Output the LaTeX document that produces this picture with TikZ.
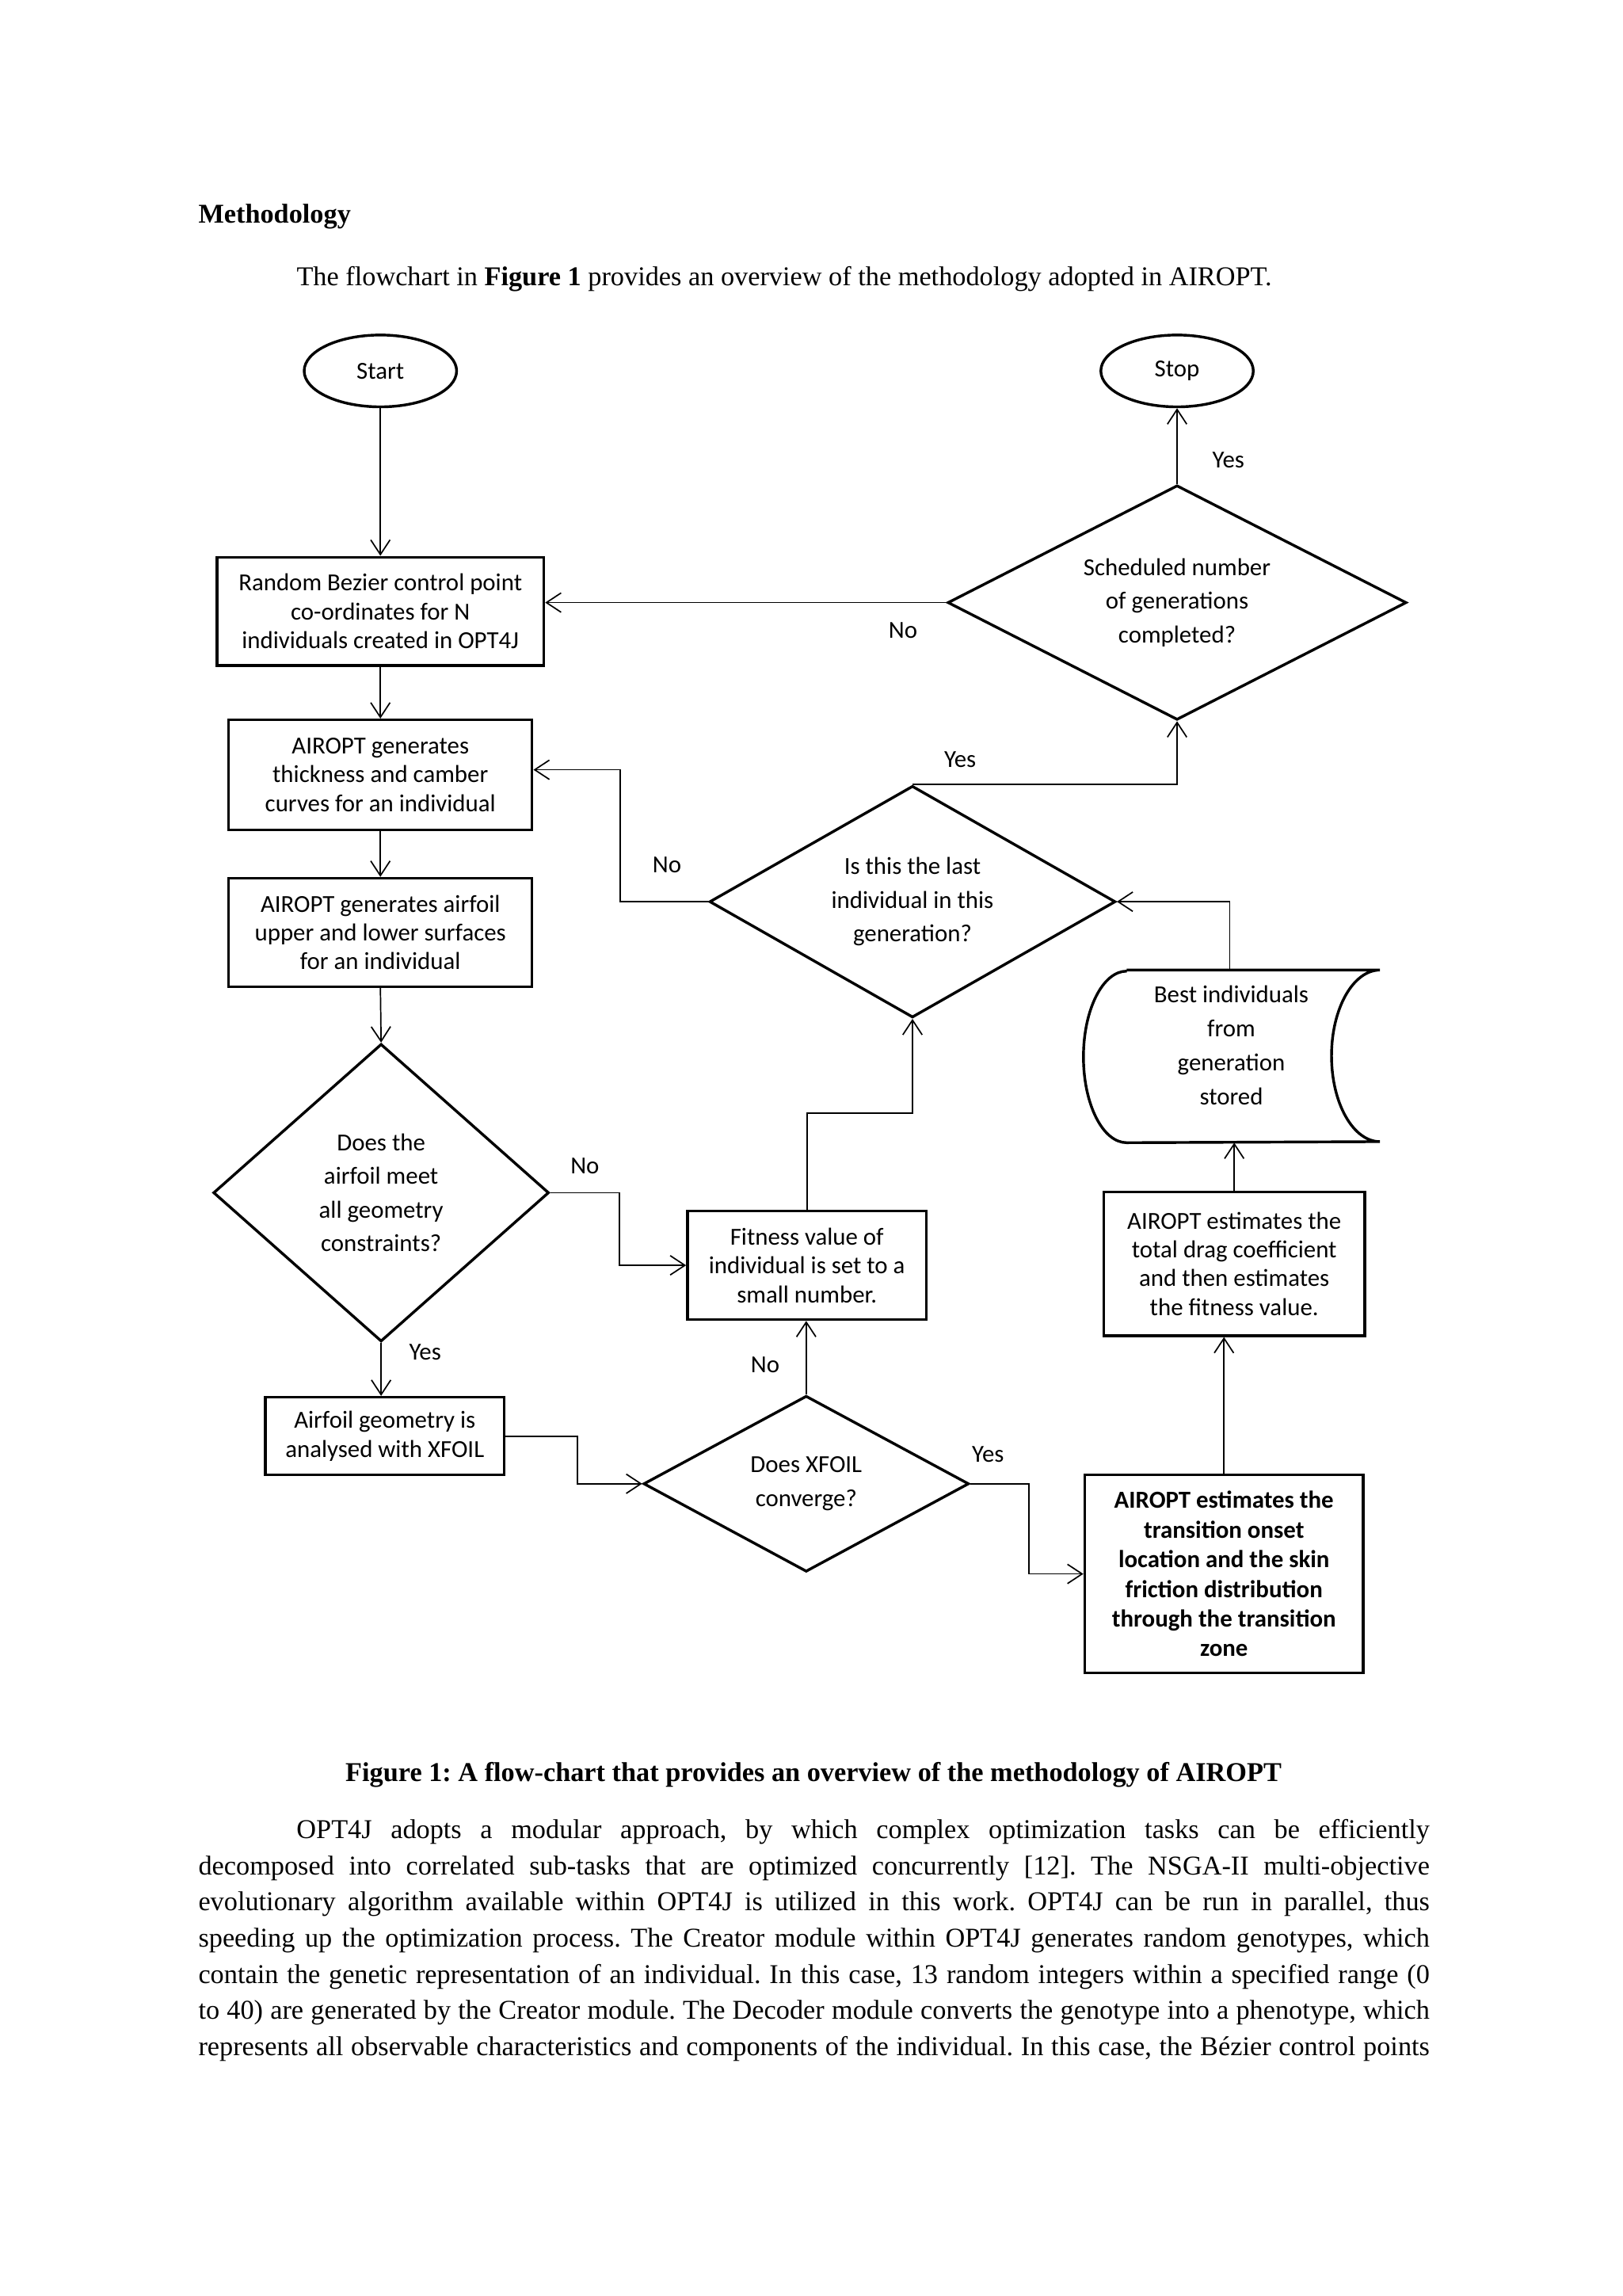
\documentclass[tikz,border=0pt]{standalone}
\usepackage{fontspec}
\setmainfont{Liberation Serif}
\newfontfamily\carlito{Carlito}
\usetikzlibrary{shapes.geometric,arrows.meta,calc}
\def\px{0.01897cm}
\frenchspacing
\begin{document}
\begin{tikzpicture}[x=0.0189702cm,y=-0.0189655cm,
  fc/.style={font=\carlito\fontsize{9}{10.6}\selectfont, align=center},
  boxn/.style={fc, draw, line width=1pt, rectangle, inner sep=0pt},
  dia/.style={draw, line width=1pt, diamond, inner sep=0pt, font=\carlito\fontsize{9}{12.4}\selectfont, align=center},
  term/.style={draw, line width=1pt, ellipse, inner sep=0pt, minimum width=104*\px, minimum height=49*\px, font=\carlito\fontsize{9}{11}\selectfont},
  conn/.style={line width=0.5pt, -{Straight Barb[length=1.9mm,width=2.5mm]}},
  lab/.style={font=\carlito\fontsize{9}{11}\selectfont, inner sep=0pt},
  txt/.style={anchor=base west, inner sep=0pt, font=\fontsize{10}{13.28}\selectfont},
]
\useasboundingbox (0,0) rectangle (1107,1566);
\fill[white] (0,0) rectangle (1107,1566);

% page text
\node[txt, font=\fontsize{10}{13.28}\selectfont\bfseries] (head) at (135,152) {Methodology};
\node[txt] (intro) at (202,195) {The flowchart in \textbf{Figure 1} provides an overview of the methodology adopted in AIROPT.};
\node[anchor=base, inner sep=0pt, font=\fontsize{10}{13.28}\selectfont\bfseries] (cap) at (555,1215) {Figure 1: A flow-chart that provides an overview of the methodology of AIROPT};

\node[txt] (p1) at (135,1254) {\hbox to 15.93cm{\hskip 1.27cm OPT4J adopts a modular approach, by which complex optimization tasks can be efficiently}};
\node[txt] (p2) at (135,1278.7) {\hbox to 15.93cm{decomposed into correlated sub-tasks that are optimized concurrently [12]. The NSGA-II multi-objective}};
\node[txt] (p3) at (135,1303.3) {\hbox to 15.93cm{evolutionary algorithm available within OPT4J is utilized in this work. OPT4J can be run in parallel, thus}};
\node[txt] (p4) at (135,1328) {\hbox to 15.93cm{speeding up the optimization process. The Creator module within OPT4J generates random genotypes, which}};
\node[txt] (p5) at (135,1352.7) {\hbox to 15.93cm{contain the genetic representation of an individual. In this case, 13 random integers within a specified range (0}};
\node[txt] (p6) at (135,1377.3) {\hbox to 15.93cm{to 40) are generated by the Creator module. The Decoder module converts the genotype into a phenotype, which}};
\node[txt] (p7) at (135,1402) {\hbox to 15.93cm{represents all observable characteristics and components of the individual. In this case, the Bézier control points}};

% flowchart nodes
\node[term] (start) at (259.5,253) {Start};
\node[term] (stop) at (803,253) {Stop};
\node[boxn, minimum width=223*\px, minimum height=74*\px] (b1) at (259.5,417) {Random Bezier control point\\co-ordinates for N\\individuals created in OPT4J};
\node[dia, aspect=1.96, minimum width=313*\px, minimum height=160*\px] (d1) at (803,411) {Scheduled number\\of generations\\completed?};
\node[boxn, minimum width=207*\px, minimum height=75*\px] (b2) at (259.5,528.5) {AIROPT generates\\thickness and camber\\curves for an individual};
\node[boxn, minimum width=207*\px, minimum height=74*\px] (b3) at (259.5,636) {AIROPT generates airfoil\\upper and lower surfaces\\for an individual};
\node[dia, aspect=1.75, minimum width=277*\px, minimum height=158*\px] (d2) at (622.5,615) {Is this the last\\individual in this\\generation?};
\node[dia, aspect=1.13, minimum width=229*\px, minimum height=203*\px] (d3) at (260,813.5) {Does the\\airfoil meet\\all geometry\\constraints?};
\node[boxn, minimum width=163*\px, minimum height=74*\px] (fit) at (550.5,863) {Fitness value of\\individual is set to a\\small number.};
\node[inner sep=0pt, minimum width=201.5*\px, minimum height=117*\px] (cyl) at (840.25,720.5) {};
\node[inner sep=0pt, font=\carlito\fontsize{9}{12.6}\selectfont, align=center] (cyltext) at (840,713) {Best individuals\\from\\generation\\stored};
\node[boxn, minimum width=178*\px, minimum height=98*\px] (drag) at (842,862) {AIROPT estimates the\\total drag coefficient\\and then estimates\\the fitness value.};
\node[boxn, minimum width=163*\px, minimum height=53*\px] (xf) at (262.5,979.5) {Airfoil geometry is\\analysed with XFOIL};
\node[dia, aspect=1.85, minimum width=222*\px, minimum height=120*\px] (d4) at (550,1012) {Does XFOIL\\converge?};
\node[boxn, font=\carlito\bfseries\fontsize{9}{10.9}\selectfont, minimum width=190*\px, minimum height=135*\px] (bold) at (835,1073.5) {AIROPT estimates the\\transition onset\\location and the skin\\friction distribution\\through the transition\\zone};

% stored-data shape
\draw[line width=1pt] ($(cyl.north west)+(29.5,0)$) -- (cyl.north east)
  arc[start angle=90,end angle=270,x radius=0.626cm,y radius=1.1097cm]
  -- ($(cyl.south west)+(29.5,0)$)
  arc[start angle=270,end angle=90,x radius=0.5596cm,y radius=1.1097cm];

% connectors
\draw[conn] (start.south) -- (b1.north);
\draw[conn] (d1.west) -- (d1.west -| b1.east);
\node[lab] (l1) at (616,430) {No};
\draw[conn] (d1.north) -- (stop.south);
\node[lab] (l2) at (838,314) {Yes};
\draw[conn] (b1.south) -- (b2.north);
\draw[conn] (b2.south) -- (b3.north);
\draw[conn] (d2.west) -- ++(-60,0) |- ([yshift=0.066cm]b2.east);
\node[lab] (l3) at (455,590) {No};
\draw[conn] (d2.north) -| (d1.south);
\node[lab] (l4) at (655,518) {Yes};
\draw[conn] (b3.south) -- (d3.north);
\draw[conn] (d3.east) -- ++(47,0) |- (fit.west);
\node[lab] (l5) at (399,795) {No};
\draw[conn] (fit.north) -- ++(0,-66) -| (d2.south);
\draw[conn] ([xshift=-0.025cm]cyl.north) |- (d2.east);
\draw[conn] (drag.north) -- (drag.north |- cyl.south);
\draw[conn] (d3.south) -- (d3.south |- xf.north);
\node[lab] (l6) at (290,922) {Yes};
\draw[conn] (xf.east) -- ++(49,0) |- (d4.west);
\draw[conn] (d4.north) -- (d4.north |- fit.south);
\node[lab] (l7) at (522,931) {No};
\draw[conn] (d4.east) -- ++(40,0) |- (bold.west);
\node[lab] (l8) at (674,992) {Yes};
\draw[conn] (bold.north) -- (bold.north |- drag.south);
\end{tikzpicture}
\end{document}
